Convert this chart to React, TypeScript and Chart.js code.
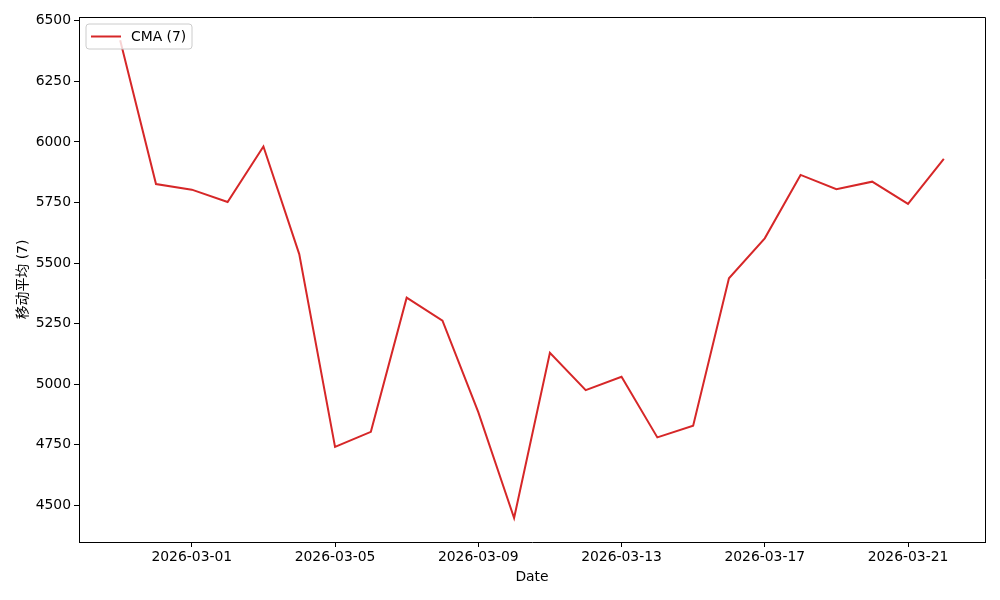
import React, { useEffect, useRef } from "react";
import { Chart, registerables } from "chart.js";

Chart.register(...registerables);

const dates = [
  "2026-02-27", "2026-02-28", "2026-03-01", "2026-03-02", "2026-03-03", "2026-03-04",
  "2026-03-05", "2026-03-06", "2026-03-07", "2026-03-08", "2026-03-09", "2026-03-10",
  "2026-03-11", "2026-03-12", "2026-03-13", "2026-03-14", "2026-03-15", "2026-03-16",
  "2026-03-17", "2026-03-18", "2026-03-19", "2026-03-20", "2026-03-21", "2026-03-22",
];
const cmaValues = [
  6420, 5826, 5803, 5752, 5981, 5537,
  4741, 4803, 5357, 5262, 4884, 4447,
  5129, 4975, 5030, 4780, 4828, 5437,
  5602, 5864, 5805, 5836, 5744, 5930,
];
const xTickLabels = ["2026-03-01", "2026-03-05", "2026-03-09", "2026-03-13", "2026-03-17", "2026-03-21"];
const yTickValues = [4500, 4750, 5000, 5250, 5500, 5750, 6000, 6250, 6500];
const seriesLabel = "CMA (7)";
const xTitle = "Date";
const yTitle = "移动平均 (7)";

const DAY = 86400000;
const t0 = Date.parse(dates[0]);
const dayOf = (s: string) => (Date.parse(s) - t0) / DAY;

const FONT = "'DejaVu Sans', 'Noto Sans CJK SC', sans-serif";
const FS = 13.9;

export default function App() {
  const ref = useRef<HTMLCanvasElement | null>(null);
  useEffect(() => {
    if (!ref.current) return;
    const span = dayOf(dates[dates.length - 1]);
    const legendPlugin = {
      id: "mplDecor",
      afterDraw(chart: any) {
        const ctx = chart.ctx;
        const a = chart.chartArea;
        ctx.save();
        ctx.strokeStyle = "#000";
        ctx.lineWidth = 1;
        ctx.beginPath();
        ctx.moveTo(a.left, a.top + 0.5);
        ctx.lineTo(a.right + 0.5, a.top + 0.5);
        ctx.lineTo(a.right + 0.5, a.bottom);
        ctx.stroke();
        const bx = a.left + 7, by = a.top + 7, bw = 106, bh = 25, r = 3;
        ctx.fillStyle = "rgba(255,255,255,0.8)";
        ctx.strokeStyle = "#cccccc";
        ctx.beginPath();
        ctx.moveTo(bx + r, by);
        ctx.lineTo(bx + bw - r, by);
        ctx.quadraticCurveTo(bx + bw, by, bx + bw, by + r);
        ctx.lineTo(bx + bw, by + bh - r);
        ctx.quadraticCurveTo(bx + bw, by + bh, bx + bw - r, by + bh);
        ctx.lineTo(bx + r, by + bh);
        ctx.quadraticCurveTo(bx, by + bh, bx, by + bh - r);
        ctx.lineTo(bx, by + r);
        ctx.quadraticCurveTo(bx, by, bx + r, by);
        ctx.closePath();
        ctx.fill();
        ctx.stroke();
        ctx.strokeStyle = "#d62728";
        ctx.lineWidth = 2;
        ctx.beginPath();
        ctx.moveTo(bx + 5, by + 12.5);
        ctx.lineTo(bx + 35, by + 12.5);
        ctx.stroke();
        ctx.fillStyle = "#000";
        ctx.font = FS + "px " + FONT;
        ctx.textBaseline = "middle";
        ctx.textAlign = "left";
        ctx.fillText(seriesLabel, bx + 45, by + 13);
        ctx.restore();
      },
    };
    const chart = new Chart(ref.current, {
      type: "line",
      data: {
        datasets: [
          {
            label: seriesLabel,
            data: dates.map((d, i) => ({ x: dayOf(d), y: cmaValues[i] })),
            borderColor: "#d62728",
            backgroundColor: "#d62728",
            borderWidth: 2,
            pointRadius: 0,
            tension: 0,
          },
        ],
      },
      options: {
        animation: false,
        responsive: false,
        layout: { padding: { top: 17, right: 15, left: 0, bottom: 0 } },
        plugins: { legend: { display: false }, tooltip: { enabled: false } },
        scales: {
          x: {
            type: "linear",
            min: -span * 0.05,
            max: span * 1.05,
            afterFit: (s: any) => { s.height = 58; },
            afterBuildTicks: (s: any) => {
              s.ticks = xTickLabels.map((l) => ({ value: dayOf(l) }));
            },
            ticks: {
              color: "#000",
              font: { size: FS, family: FONT },
              padding: 2,
              maxRotation: 0,
              autoSkip: false,
              callback: (v: any) => {
                const i = xTickLabels.findIndex((l) => Math.abs(dayOf(l) - v) < 1e-6);
                return i >= 0 ? xTickLabels[i] : "";
              },
            },
            grid: { display: true, drawOnChartArea: false, drawTicks: true, tickLength: 5, color: "#000" },
            border: { display: true, color: "#000", width: 1 },
            title: { display: true, text: xTitle, color: "#000", font: { size: FS, family: FONT }, padding: { top: 14, bottom: 14 } },
          },
          y: {
            type: "linear",
            min: 4348,
            max: 6516,
            afterFit: (s: any) => { s.width = 79; },
            afterBuildTicks: (s: any) => {
              s.ticks = yTickValues.map((v) => ({ value: v }));
            },
            ticks: {
              color: "#000",
              font: { size: FS, family: FONT },
              padding: 3,
              callback: (v: any) => String(v),
            },
            grid: { display: true, drawOnChartArea: false, drawTicks: true, tickLength: 5, color: "#000" },
            border: { display: true, color: "#000", width: 1 },
            title: { display: true, text: yTitle, color: "#000", font: { size: FS, family: FONT }, padding: { top: 15, bottom: 15 } },
          },
        },
      },
      plugins: [legendPlugin],
    } as any);
    return () => chart.destroy();
  }, []);
  return (
    <div style={{ position: "absolute", left: 0, top: 0, width: 1000, height: 600, background: "#fff" }}>
      <canvas ref={ref} width={1000} height={600} />
    </div>
  );
}
